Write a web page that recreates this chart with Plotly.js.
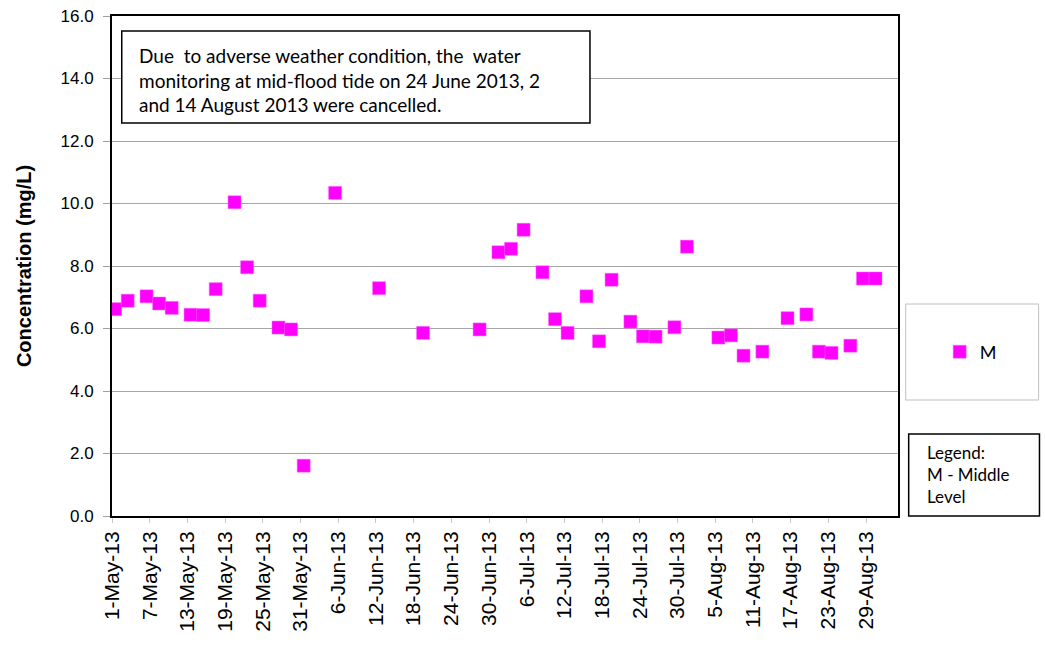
<!DOCTYPE html>
<html>
<head>
<meta charset="utf-8">
<script src="https://cdn.plot.ly/plotly-3.0.1.min.js"></script>
<style>html,body{margin:0;padding:0;background:#fff;}#chart{width:1045px;height:648px;}</style>
</head>
<body>
<div id="chart"></div>
<script>
// Sampling dates (middle level) and concentrations (mg/L)
const sampleDates = [
  '2013-05-01','2013-05-03','2013-05-06','2013-05-08','2013-05-10','2013-05-13','2013-05-15','2013-05-17',
  '2013-05-20','2013-05-22','2013-05-24','2013-05-27','2013-05-29','2013-05-31','2013-06-05','2013-06-12',
  '2013-06-19','2013-06-28','2013-07-01','2013-07-03','2013-07-05','2013-07-08','2013-07-10','2013-07-12',
  '2013-07-15','2013-07-17','2013-07-19','2013-07-22','2013-07-24','2013-07-26','2013-07-29','2013-07-31',
  '2013-08-05','2013-08-07','2013-08-09','2013-08-12','2013-08-16','2013-08-19','2013-08-21','2013-08-23',
  '2013-08-26','2013-08-28','2013-08-30'
];
const middleLevel = [
  6.62, 6.89, 7.03, 6.80, 6.66, 6.44, 6.43, 7.26,
  10.04, 7.96, 6.89, 6.03, 5.97, 1.61, 10.34, 7.29,
  5.86, 5.97, 8.44, 8.55, 9.16, 7.80, 6.30, 5.86,
  7.03, 5.59, 7.56, 6.22, 5.75, 5.74, 6.04, 8.62,
  5.71, 5.78, 5.13, 5.26, 6.33, 6.45, 5.26, 5.22,
  5.45, 7.60, 7.60
];
const seriesName = 'M';
const noteText = 'Due  to adverse weather condition, the  water<br>monitoring at mid-flood tide on 24 June 2013, 2<br>and 14 August 2013 were cancelled.';
const legendNote = 'Legend:<br>M - Middle<br>Level';
const yTitle = 'Concentration (mg/L)';

const trace = {
  type: 'scatter',
  mode: 'markers',
  name: seriesName,
  // Excel date axis places points between tick marks (mid-day)
  x: sampleDates.map(d => d + ' 12:00'),
  y: middleLevel,
  marker: {symbol: 'square', size: 13, color: '#FF00FF', line: {color: '#ff66ff', width: 0.5}},
  hoverinfo: 'x+y'
};

const calib = 'Lato, "Open Sans", sans-serif';
const layout = {
  width: 1045, height: 648,
  margin: {l: 112, r: 147, t: 16, b: 132},
  paper_bgcolor: '#fff', plot_bgcolor: '#fff',
  font: {family: '"Liberation Sans", Arial, sans-serif', color: '#000'},
  xaxis: {
    type: 'date',
    range: ['2013-05-01', '2013-09-03 02:00'],
    tick0: '2013-05-01', dtick: 6 * 86400000,
    tickformat: '%-d-%b-%y',
    tickangle: -90,
    tickfont: {size: 21, family: '"Liberation Sans", Arial, sans-serif'},
    ticks: 'outside', ticklen: 5, tickcolor: '#c8c8c8',
    showgrid: false, zeroline: false,
    showline: true, linecolor: '#000', linewidth: 2, mirror: true
  },
  yaxis: {
    range: [0, 16], dtick: 2, tick0: 0,
    tickformat: '.1f',
    tickfont: {size: 17},
    ticks: 'outside', ticklen: 7, tickcolor: '#a0a0a0',
    ticklabelstandoff: 6,
    gridcolor: '#a6a6a6', gridwidth: 1,
    zeroline: false,
    showline: true, linecolor: '#000', linewidth: 2, mirror: true,
    title: {text: yTitle, font: {size: 20, family: '"Liberation Sans", Arial, sans-serif', weight: 'bold'}, standoff: 24}
  },
  showlegend: true,
  legend: {
    x: 1.053, y: 0.328, xanchor: 'left', yanchor: 'middle',
    bgcolor: 'rgba(0,0,0,0)', borderwidth: 0,
    font: {family: calib, size: 18},
    itemwidth: 30
  },
  shapes: [
    {type: 'rect', xref: 'paper', yref: 'paper', x0: 0.0124, x1: 0.6081, y0: 0.786, y1: 0.97,
     line: {color: '#000', width: 1.5}, fillcolor: '#fff', layer: 'above'},
    {type: 'rect', xref: 'paper', yref: 'paper', x0: 1.0098, x1: 1.1789, y0: 0.232, y1: 0.424,
     line: {color: '#c0c0c0', width: 1}, fillcolor: 'rgba(0,0,0,0)'},
    {type: 'rect', xref: 'paper', yref: 'paper', x0: 1.0136, x1: 1.180, y0: 0.0, y1: 0.164,
     line: {color: '#000', width: 1.5}, fillcolor: 'rgba(0,0,0,0)'}
  ],
  annotations: [
    {xref: 'paper', yref: 'paper', x: 0.0318, y: 0.948, xanchor: 'left', yanchor: 'top',
     text: noteText, showarrow: false, align: 'left',
     font: {family: calib, size: 19, color: '#000'}},
    {xref: 'paper', yref: 'paper', x: 1.034, y: 0.152, xanchor: 'left', yanchor: 'top',
     text: legendNote, showarrow: false, align: 'left',
     font: {family: calib, size: 17, color: '#000'}}
  ]
};

Plotly.newPlot('chart', [trace], layout, {displayModeBar: false, staticPlot: false});
</script>
</body>
</html>
